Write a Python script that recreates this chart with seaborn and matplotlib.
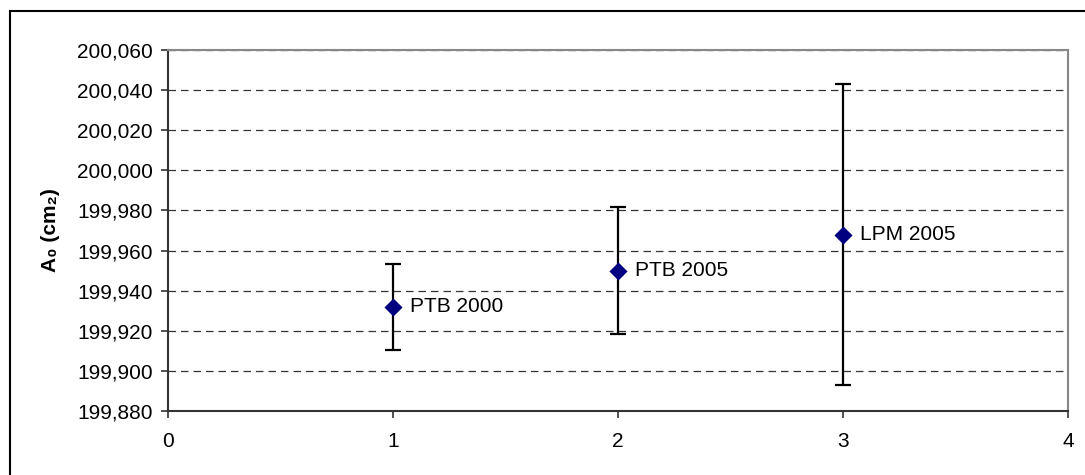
import numpy as np
import pandas as pd
import matplotlib
matplotlib.use('Agg')
import matplotlib.pyplot as plt
import seaborn as sns
from matplotlib.ticker import FuncFormatter, MultipleLocator
from matplotlib.patches import Rectangle

# values
labels = ['PTB 2000', 'PTB 2005', 'LPM 2005']
x_pos = [1, 2, 3]
a0 = [199.932, 199.950, 199.968]
unc = [0.0215, 0.0315, 0.075]

data = pd.DataFrame({'x': x_pos, 'A0': a0, 'U': unc, 'label': labels})

sns.set_style('white')
plt.rcParams['font.family'] = ['Liberation Sans', 'DejaVu Sans']
plt.rcParams['text.color'] = 'black'
plt.rcParams['axes.labelcolor'] = 'black'

fig = plt.figure(figsize=(10.85, 4.75), dpi=100)
ax = fig.add_axes([168 / 1085, 64 / 475, 900 / 1085, 361 / 475])

# outer chart frame, cropped on the right and bottom like the reference
fig.patches.append(Rectangle((9.5 / 1085, -0.5), 2.0, 0.5 + 1 - 10.5 / 475,
                             transform=fig.transFigure, fill=False,
                             edgecolor='black', linewidth=1.5))

ax.errorbar(data.x, data.A0, yerr=data.U, fmt='none', ecolor='black',
            elinewidth=1.6, capsize=5.5, capthick=1.6, zorder=3)
sns.scatterplot(data=data, x='x', y='A0', marker='D', s=85, color='#000080',
                edgecolor='#000080', linewidth=0, ax=ax, zorder=4)

for _, row in data.iterrows():
    ax.annotate(row['label'], (row['x'], row['A0']), xytext=(12, 0),
                textcoords='offset points', ha='left', va='center',
                fontsize=15, color='black')

ax.set_xlim(0, 4)
ax.set_ylim(199.880, 200.060)
ax.xaxis.set_major_locator(MultipleLocator(1))
ax.yaxis.set_major_locator(MultipleLocator(0.02))
ax.yaxis.set_major_formatter(FuncFormatter(lambda v, p: f'{v:.3f}'.replace('.', ',')))

ax.grid(axis='y', color='#333333', linestyle=(0, (6, 4)), linewidth=0.9)
ax.set_axisbelow(True)

for side in ['left', 'bottom']:
    ax.spines[side].set_color('#333333')
    ax.spines[side].set_linewidth(1.5)
for side in ['top', 'right']:
    ax.spines[side].set_color('#888888')
    ax.spines[side].set_linewidth(1.5)

ax.tick_params(axis='both', direction='out', length=5, width=1.2,
               color='#333333', labelcolor='black', labelsize=15,
               left=True, bottom=True)
ax.tick_params(axis='x', pad=10)
ax.tick_params(axis='y', pad=6)

ax.set_xlabel('')
ax.set_ylabel('A\u2080 (cm\u2082)', fontsize=15, fontweight='bold', labelpad=12)

fig.savefig('out.png', dpi=100)
